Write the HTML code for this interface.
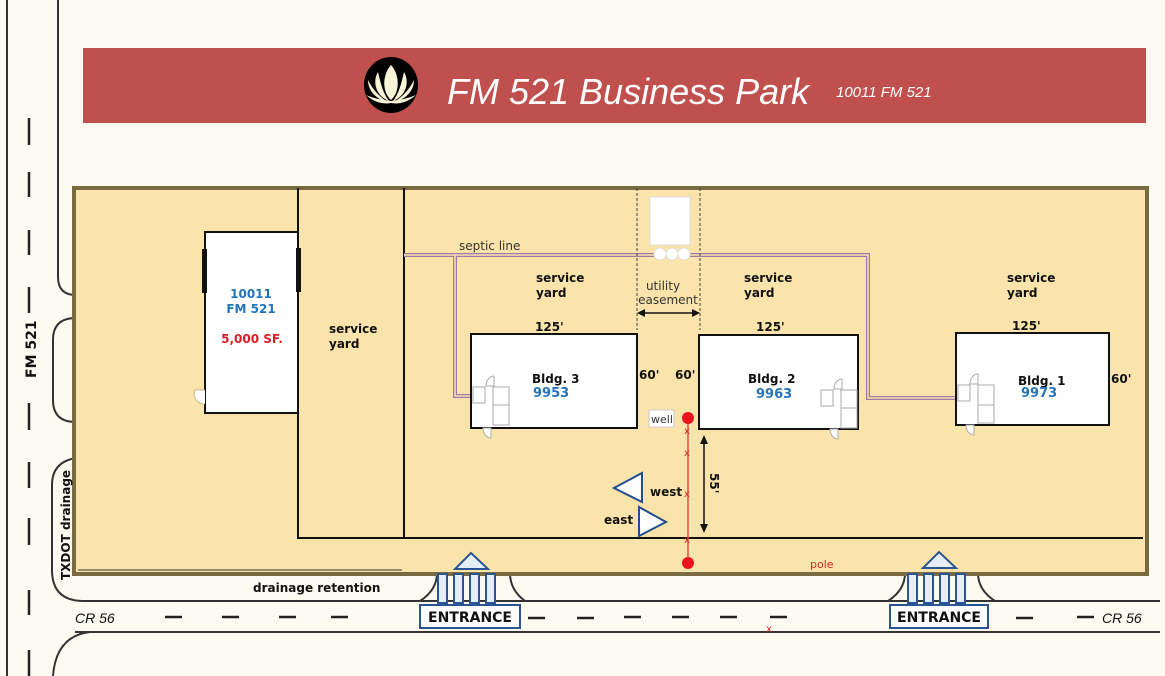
<!DOCTYPE html>
<html><head><meta charset="utf-8"><style>
html,body{margin:0;padding:0;background:#fdfaf2;}
svg{display:block;}
text{font-family:"DejaVu Sans","Liberation Sans",sans-serif;}
</style></head><body>
<svg width="1165" height="676" viewBox="0 0 1165 676" xmlns="http://www.w3.org/2000/svg">
<rect width="1165" height="676" fill="#fdfaf2"/>
<!-- banner -->
<rect x="83" y="48" width="1063" height="75" fill="#c0504d"/>
<ellipse cx="391" cy="85" rx="27" ry="28" fill="#000"/>
<g fill="#f8f4d8">
<path d="M391 65 C382 75 382 92 391 100 C400 92 400 75 391 65Z"/>
<path d="M378 72 C372 82 376 96 389 101 C382 92 380 80 378 72Z"/>
<path d="M404 72 C410 82 406 96 393 101 C400 92 402 80 404 72Z"/>
<path d="M368 80 C368 92 378 100 388 102 C378 96 372 88 368 80Z"/>
<path d="M414 80 C414 92 404 100 394 102 C404 96 410 88 414 80Z"/>
<path d="M366 95 C376 104 386 104 391 103 C396 104 406 104 416 95 C404 100 396 100 391 101 C386 100 378 100 366 95Z"/>
</g>
<text x="447" y="104" fill="#fff" font-family="Liberation Sans" font-style="italic" font-size="36" style="font-family:'Liberation Sans',sans-serif">FM 521 Business Park</text>
<text x="836" y="97" fill="#fff" font-style="italic" font-size="15" style="font-family:'Liberation Sans',sans-serif">10011 FM 521</text>
<!-- roads -->
<g stroke="#333" stroke-width="2" fill="none">
<line x1="7" y1="0" x2="7" y2="676"/>
<path d="M58 0 V277 Q58 295 76 295"/>
<path d="M76 318 Q53 318 53 340 V400 Q53 422 76 422"/>
<path d="M76 458 Q52 462 52 485 V570 Q52 600 82 601 H1160"/>
<line x1="75" y1="632" x2="1160" y2="632"/>
<path d="M53 676 Q56 636 90 632"/>
<path d="M420 601 Q437 590 437 573"/>
<path d="M510 573 Q510 590 525 601"/>
<path d="M888 601 Q905 590 905 573"/>
<path d="M978 573 Q978 590 995 601"/>
</g>
<g stroke="#222" stroke-width="2.5">
<line x1="29" y1="118" x2="29" y2="145"/><line x1="29" y1="172" x2="29" y2="197"/><line x1="29" y1="230" x2="29" y2="255"/>
<line x1="29" y1="287" x2="29" y2="313"/><line x1="29" y1="403" x2="29" y2="430"/><line x1="29" y1="462" x2="29" y2="488"/>
<line x1="29" y1="518" x2="29" y2="545"/><line x1="29" y1="590" x2="29" y2="615"/><line x1="29" y1="650" x2="29" y2="676"/>
<line x1="165" y1="617" x2="182" y2="617"/><line x1="222" y1="617" x2="239" y2="617"/><line x1="279" y1="617" x2="296" y2="617"/><line x1="331" y1="617" x2="348" y2="617"/>
<line x1="528" y1="618" x2="545" y2="618"/><line x1="577" y1="618" x2="594" y2="618"/><line x1="624" y1="617" x2="641" y2="617"/><line x1="672" y1="617" x2="689" y2="617"/><line x1="720" y1="617" x2="737" y2="617"/><line x1="770" y1="617" x2="787" y2="617"/>
<line x1="1016" y1="618" x2="1033" y2="618"/><line x1="1077" y1="617" x2="1094" y2="617"/>
</g>
<text x="36" y="378" font-size="14" font-weight="bold" fill="#111" transform="rotate(-90 36 378)">FM 521</text>
<text x="75" y="623" font-size="14" font-style="italic" fill="#111" style="font-family:'Liberation Sans',sans-serif">CR 56</text>
<text x="1102" y="623" font-size="14" font-style="italic" fill="#111" style="font-family:'Liberation Sans',sans-serif">CR 56</text>
<!-- lot -->
<rect x="74" y="188" width="1073" height="386" fill="#fbe4ab" stroke="#7a6a40" stroke-width="4"/>
<line x1="78" y1="570" x2="402" y2="570" stroke="#333" stroke-width="1"/>
<text x="70" y="580" font-size="12" font-weight="bold" fill="#111" transform="rotate(-90 70 580)">TXDOT drainage</text>
<text x="253" y="592" font-size="12" font-weight="bold" fill="#111">drainage retention</text>
<g stroke="#111" stroke-width="2" fill="none">
<line x1="298" y1="188" x2="298" y2="538"/>
<line x1="404" y1="188" x2="404" y2="538"/>
<line x1="297" y1="538" x2="1143" y2="538"/>
</g>
<!-- building 10011 -->
<rect x="205" y="232" width="93" height="181" fill="#fff" stroke="#111" stroke-width="2"/>
<rect x="202" y="249" width="5" height="44" fill="#111"/>
<rect x="296" y="248" width="5" height="44" fill="#111"/>
<path d="M205 390 h-10 a10 10 0 0 0 10 14" fill="#fff" stroke="#c8b890" stroke-width="1"/>
<text x="251" y="298" font-size="12" font-weight="bold" fill="#2374bb" text-anchor="middle">10011</text>
<text x="251" y="313" font-size="12" font-weight="bold" fill="#2374bb" text-anchor="middle">FM 521</text>
<text x="252" y="343" font-size="12" font-weight="bold" fill="#d61f26" text-anchor="middle">5,000 SF.</text>
<text x="329" y="333" font-size="12" font-weight="bold" fill="#111">service</text>
<text x="329" y="348" font-size="12" font-weight="bold" fill="#111">yard</text>
<!-- septic -->
<g stroke="#9e7aa8" stroke-width="4" fill="none"><path d="M404 255 H868 V398 H958"/><path d="M455 255 V396 H471"/></g>
<g stroke="#fbe4ab" stroke-width="1.5" fill="none"><path d="M404 255 H868 V398 H958"/><path d="M455 255 V396 H471"/></g>
<text x="459" y="250" font-size="12" fill="#333">septic line</text>
<!-- easement -->
<g stroke="#444" stroke-width="1" stroke-dasharray="3,2"><line x1="637" y1="188" x2="637" y2="330"/><line x1="700" y1="188" x2="700" y2="330"/></g>
<rect x="650" y="197" width="40" height="48" fill="#fff" stroke="#ddd"/>
<g fill="#fff" stroke="#ddd"><circle cx="660" cy="254" r="6"/><circle cx="672" cy="254" r="6"/><circle cx="684" cy="254" r="6"/></g>
<text x="663" y="290" font-size="12" fill="#333" text-anchor="middle">utility</text>
<text x="668" y="304" font-size="12" fill="#333" text-anchor="middle">easement</text>
<line x1="641" y1="313" x2="696" y2="313" stroke="#111" stroke-width="1.5"/>
<path d="M637 313 l8 -4 v8z M700 313 l-8 -4 v8z" fill="#111"/>
<!-- service yard labels -->
<g font-size="12" font-weight="bold" fill="#111">
<text x="536" y="282">service</text><text x="536" y="297">yard</text>
<text x="744" y="282">service</text><text x="744" y="297">yard</text>
<text x="1007" y="282">service</text><text x="1007" y="297">yard</text>
<text x="535" y="331">125'</text><text x="756" y="331">125'</text><text x="1012" y="330">125'</text>
<text x="639" y="379">60'</text><text x="675" y="379">60'</text><text x="1111" y="383">60'</text>
</g>
<!-- buildings -->
<rect x="471" y="334" width="166" height="94" fill="#fff" stroke="#111" stroke-width="2"/>
<rect x="699" y="335" width="159" height="94" fill="#fff" stroke="#111" stroke-width="2"/>
<rect x="956" y="333" width="153" height="92" fill="#fff" stroke="#111" stroke-width="2"/>
<g fill="#fff" stroke="#aaa" stroke-width="1">
<rect x="473" y="387" width="12" height="16"/><rect x="493" y="387" width="16" height="38"/><line x1="493" y1="405" x2="509" y2="405"/><path d="M483 428 a8 10 0 0 0 8 10 v-10z"/><path d="M486 386 a8 10 0 0 1 8 -10 v10z"/>
<rect x="821" y="390" width="12" height="16"/><rect x="841" y="390" width="16" height="38"/><line x1="841" y1="408" x2="857" y2="408"/><path d="M830 429 a8 10 0 0 0 8 10 v-10z"/><path d="M834 389 a8 10 0 0 1 8 -10 v10z"/>
<rect x="958" y="385" width="12" height="16"/><rect x="978" y="385" width="16" height="38"/><line x1="978" y1="405" x2="994" y2="405"/><path d="M966 425 a8 10 0 0 0 8 10 v-10z"/><path d="M970 384 a8 10 0 0 1 8 -10 v10z"/>
</g>
<g font-size="12" font-weight="bold">
<text x="532" y="383" fill="#111">Bldg. 3</text><text x="533" y="397" fill="#2374bb" font-size="13">9953</text>
<text x="748" y="383" fill="#111">Bldg. 2</text><text x="756" y="398" fill="#2374bb" font-size="13">9963</text>
<text x="1018" y="385" fill="#111">Bldg. 1</text><text x="1021" y="397" fill="#2374bb" font-size="13">9973</text>
</g>
<!-- well & pole -->
<rect x="649" y="410" width="25" height="17" fill="#fff" stroke="#ccc"/>
<text x="651" y="423" font-size="11" fill="#333">well</text>
<line x1="688" y1="423" x2="688" y2="557" stroke="#e0503c" stroke-width="1.5"/>
<circle cx="688" cy="418" r="6" fill="#e8141a"/><circle cx="688" cy="563" r="6" fill="#e8141a"/>
<g fill="#d62a20" font-size="10"><text x="684" y="434">x</text><text x="684" y="456">x</text><text x="684" y="497">x</text><text x="684" y="543">x</text><text x="766" y="632">x</text></g>
<text x="810" y="568" font-size="11" fill="#d62a20">pole</text>
<line x1="704" y1="442" x2="704" y2="526" stroke="#111" stroke-width="1.5"/>
<path d="M704 435 l-4 9 h8z M704 533 l-4 -9 h8z" fill="#111"/>
<text x="710" y="473" font-size="12" font-weight="bold" fill="#111" transform="rotate(90 710 473)">55'</text>
<polygon points="614,488 642,473 642,502" fill="#fff" stroke="#1f4e8c" stroke-width="2"/>
<polygon points="639,507 639,536 666,522" fill="#fff" stroke="#1f4e8c" stroke-width="2"/>
<text x="650" y="496" font-size="12" font-weight="bold" fill="#111">west</text>
<text x="604" y="524" font-size="12" font-weight="bold" fill="#111">east</text>
<!-- entrances -->
<g fill="#e6eef8" stroke="#2b5592" stroke-width="2">
<polygon points="455,569 471,553 488,569"/>
<rect x="438" y="574" width="9" height="29"/><rect x="454" y="574" width="9" height="29"/><rect x="470" y="574" width="9" height="29"/><rect x="486" y="574" width="9" height="29"/>
<polygon points="923,568 939,552 956,568"/>
<rect x="908" y="574" width="9" height="29"/><rect x="924" y="574" width="9" height="29"/><rect x="940" y="574" width="9" height="29"/><rect x="956" y="574" width="9" height="29"/>
</g>
<rect x="420" y="605" width="100" height="23" fill="#fff" stroke="#2b5592" stroke-width="2"/>
<rect x="890" y="605" width="98" height="23" fill="#fff" stroke="#2b5592" stroke-width="2"/>
<g font-size="14" font-weight="bold" fill="#111" text-anchor="middle" style="font-family:'Liberation Sans',sans-serif">
<text x="470" y="622">ENTRANCE</text><text x="939" y="622">ENTRANCE</text>
</g>
</svg>
</body></html>
